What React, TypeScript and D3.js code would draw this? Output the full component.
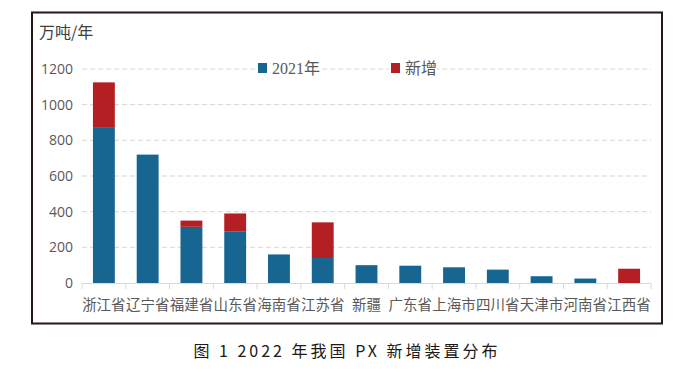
import * as d3 from "d3";
import { useEffect, useRef } from "react";

const provinces = ["浙江省", "辽宁省", "福建省", "山东省", "海南省", "江苏省", "新疆", "广东省", "上海市", "四川省", "天津市", "河南省", "江西省"];
const base2021 = [870, 720, 315, 290, 160, 140, 100, 97, 88, 75, 38, 25, 0];
const added = [255, 0, 35, 100, 0, 200, 0, 0, 0, 0, 0, 0, 80];
const yTicks = [0, 200, 400, 600, 800, 1000, 1200];
const seriesNames = ["2021年", "新增"];
const colors = ["#176591", "#b41f24"];

export default function App() {
  const svgRef = useRef<SVGSVGElement>(null);

  const W = 677;
  const H = 386;
  const margin = { top: 69, left: 82 };
  const width = 651 - margin.left;
  const height = 283 - margin.top;

  useEffect(() => {
    const svg = d3.select(svgRef.current);
    svg.selectAll("*").remove();

    svg.append("rect").attr("width", W).attr("height", H).attr("fill", "#fff");

    // frame
    svg.append("rect")
      .attr("x", 32).attr("y", 12.5)
      .attr("width", 630).attr("height", 311)
      .attr("fill", "none")
      .attr("stroke", "#231815")
      .attr("stroke-width", 2);

    const g = svg.append("g").attr("transform", `translate(${margin.left},${margin.top})`);

    const x = d3.scaleBand().domain(provinces).range([0, width]).paddingInner(0.5).paddingOuter(0.25);
    const y = d3.scaleLinear().domain([0, 1200]).range([height, 0]);

    // grid
    g.selectAll(".grid")
      .data(yTicks.filter((t) => t > 0))
      .enter()
      .append("line")
      .attr("x1", 0)
      .attr("x2", width)
      .attr("y1", (d) => y(d))
      .attr("y2", (d) => y(d))
      .attr("stroke", "#d9d4d0")
      .attr("stroke-dasharray", "5,3");

    // y labels
    g.selectAll(".ylab")
      .data(yTicks)
      .enter()
      .append("text")
      .attr("x", -9)
      .attr("y", (d) => y(d))
      .attr("dy", "0.35em")
      .attr("text-anchor", "end")
      .attr("font-family", "'Open Sans', 'Noto Sans', sans-serif")
      .attr("font-size", 14)
      .attr("fill", "#595959")
      .text((d) => d);

    // stacked bars
    const stacked = provinces.map((p, i) => ({ p, a: base2021[i], b: added[i] }));
    g.selectAll(".b1")
      .data(stacked)
      .enter()
      .append("rect")
      .attr("x", (d) => x(d.p)!)
      .attr("width", x.bandwidth())
      .attr("y", (d) => y(d.a))
      .attr("height", (d) => height - y(d.a))
      .attr("fill", colors[0]);
    g.selectAll(".b2")
      .data(stacked.filter((d) => d.b > 0))
      .enter()
      .append("rect")
      .attr("x", (d) => x(d.p)!)
      .attr("width", x.bandwidth())
      .attr("y", (d) => y(d.a + d.b))
      .attr("height", (d) => y(d.a) - y(d.a + d.b))
      .attr("fill", colors[1]);

    // x axis
    g.append("line")
      .attr("x1", 0).attr("x2", width)
      .attr("y1", height + 0.5).attr("y2", height + 0.5)
      .attr("stroke", "#d9d9d9");
    g.selectAll(".tick")
      .data(d3.range(provinces.length + 1))
      .enter()
      .append("line")
      .attr("x1", (d) => d * x.step())
      .attr("x2", (d) => d * x.step())
      .attr("y1", height)
      .attr("y2", height + 6)
      .attr("stroke", "#d9d9d9");
    g.selectAll(".xlab")
      .data(provinces)
      .enter()
      .append("text")
      .attr("x", (d) => x(d)! + x.bandwidth() / 2)
      .attr("y", height + 27)
      .attr("text-anchor", "middle")
      .attr("font-family", "'Noto Sans CJK SC', sans-serif")
      .attr("font-size", 14.5)
      .attr("fill", "#595959")
      .text((d) => d);

    // unit label
    svg.append("text")
      .attr("x", 39).attr("y", 38)
      .attr("font-family", "'Noto Sans CJK SC', sans-serif")
      .attr("font-size", 16)
      .attr("fill", "#404040")
      .text("万吨/年");

    // legend
    const legendX = [258, 391];
    seriesNames.forEach((name, i) => {
      const lg = svg.append("g").attr("transform", `translate(${legendX[i]}, 62)`);
      lg.append("rect").attr("x", -2).attr("y", -2).attr("width", name.length > 2 ? 64 : 48).attr("height", 14).attr("fill", "#fff");
      lg.append("rect").attr("x", 0).attr("y", 1).attr("width", 9).attr("height", 10).attr("fill", colors[i]);
      lg.append("text")
        .attr("x", 14).attr("y", 12)
        .attr("font-family", "'Liberation Serif', 'Noto Sans CJK SC', serif")
        .attr("font-size", 16)
        .attr("fill", "#595959")
        .text(name);
    });

    // caption
    svg.append("text")
      .attr("x", 347).attr("y", 357)
      .attr("text-anchor", "middle")
      .attr("font-family", "'Noto Sans CJK SC', sans-serif")
      .attr("font-size", 16)
      .attr("letter-spacing", 3)
      .attr("fill", "#231815")
      .text("图 1  2022 年我国 PX 新增装置分布");
  }, []);

  return (
    <svg
      ref={svgRef}
      width={W}
      height={H}
      style={{ position: "absolute", left: 0, top: 0 }}
    ></svg>
  );
}
